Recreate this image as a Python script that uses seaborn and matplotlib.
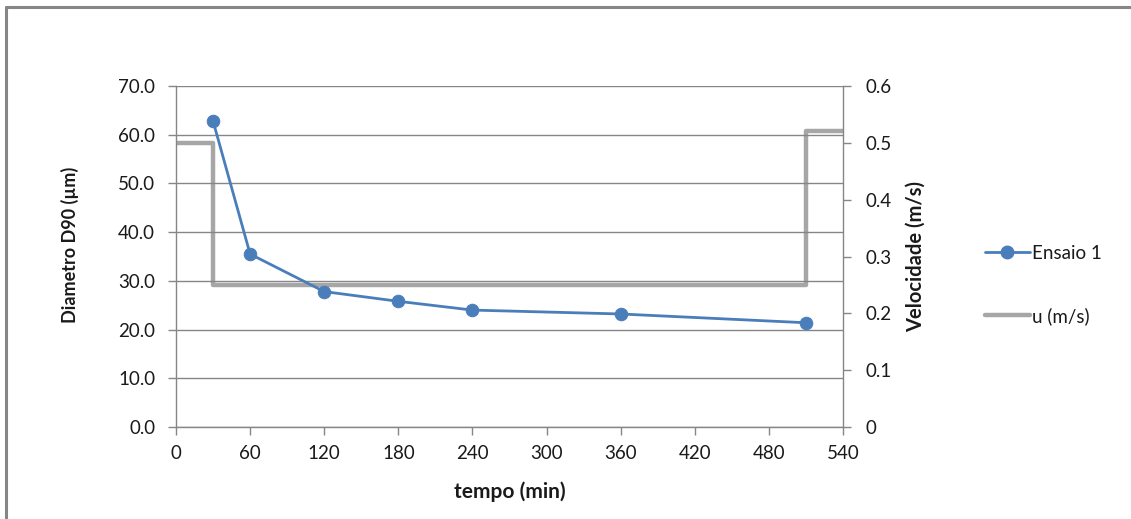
import matplotlib
matplotlib.use("Agg")
import matplotlib.pyplot as plt
from matplotlib.lines import Line2D
import seaborn as sns
import pandas as pd

# Diameter D90 measurements over time (Ensaio 1)
tempo_min = [30, 60, 120, 180, 240, 360, 510]
d90_um = [62.8, 35.5, 27.8, 25.8, 24.0, 23.2, 21.4]

# Flow velocity schedule (step changes)
tempo_u = [0, 30, 510, 540]
u_ms = [0.50, 0.25, 0.52, 0.52]

x_ticks = [0, 60, 120, 180, 240, 300, 360, 420, 480, 540]
left_ticks = [0, 10, 20, 30, 40, 50, 60, 70]
right_ticks = [0, 0.1, 0.2, 0.3, 0.4, 0.5, 0.6]
right_labels = ["0", "0.1", "0.2", "0.3", "0.4", "0.5", "0.6"]

sns.set_theme(style="white")
plt.rcParams["font.family"] = ["Lato", "DejaVu Sans"]

blue = "#4A7EBB"
grey_u = "#A6A6A6"
axis_grey = "#868686"
text_col = "#1a1a1a"

fig = plt.figure(figsize=(11.31, 5.19), dpi=100)
ax = fig.add_axes([176 / 1131, 1 - 427 / 519, (843 - 176) / 1131, (427 - 86) / 519])
ax2 = ax.twinx()

df_d = pd.DataFrame({"tempo": tempo_min, "d90": d90_um})
df_u = pd.DataFrame({"tempo": tempo_u, "u": u_ms})

sns.lineplot(data=df_u, x="tempo", y="u", ax=ax2, color=grey_u, linewidth=3.2,
             drawstyle="steps-post", legend=False, zorder=2)
sns.lineplot(data=df_d, x="tempo", y="d90", ax=ax, color=blue, linewidth=2.0,
             marker="o", markersize=9, markeredgecolor=blue, legend=False, zorder=3)

# D90 series drawn above the velocity axis
ax.set_zorder(ax2.get_zorder() + 1)
ax.patch.set_visible(False)

ax.set_xlim(0, 540)
ax.set_ylim(0, 70)
ax2.set_ylim(0, 0.6)
ax.set_xticks(x_ticks)
ax.set_yticks(left_ticks)
ax.set_yticklabels([f"{v:.1f}" for v in left_ticks])
ax2.set_yticks(right_ticks)
ax2.set_yticklabels(right_labels)

ax.grid(axis="y", color=axis_grey, linewidth=1.0)
ax.grid(axis="x", visible=False)
ax2.grid(False)

for a in (ax, ax2):
    a.spines["top"].set_visible(False)
    for side in ("left", "right", "bottom"):
        a.spines[side].set_color(axis_grey)
        a.spines[side].set_linewidth(1.0)
ax.spines["right"].set_visible(False)
ax2.spines["left"].set_visible(False)
ax2.spines["bottom"].set_visible(False)

ax.tick_params(axis="x", which="major", direction="out", length=6, width=1.0,
               color=axis_grey, labelsize=13.5, labelcolor=text_col, pad=7, bottom=True)
ax.tick_params(axis="y", which="major", direction="out", length=6, width=1.0,
               color=axis_grey, labelsize=13.5, labelcolor=text_col, pad=9, left=True)
ax2.tick_params(axis="y", direction="out", length=6, width=1.0, color=axis_grey,
                labelsize=13.5, labelcolor=text_col, pad=10, right=True)

ax.set_xlabel("tempo (min)", fontsize=15, fontweight="bold", color=text_col, labelpad=14)
ax.set_ylabel("Diametro D90 (µm)", fontsize=13, fontweight="bold", color=text_col, labelpad=28)
ax.yaxis.label.set_y(0.535)
ax2.set_ylabel("Velocidade (m/s)", fontsize=14.5, fontweight="bold", color=text_col, labelpad=10)

handles = [
    Line2D([], [], color=blue, linewidth=2.0, marker="o", markersize=9),
    Line2D([], [], color=grey_u, linewidth=3.2),
]
fig.legend(handles, ["Ensaio 1", "u (m/s)"], loc="center left",
           bbox_to_anchor=(968 / 1131, 1 - 285 / 519), frameon=False,
           fontsize=13.5, labelspacing=2.4, handlelength=2.4, handletextpad=0.1,
           labelcolor=text_col)

# Chart frame edges
fig.add_artist(Line2D([6 / 1131, 6 / 1131], [0, 1 - 7 / 519], transform=fig.transFigure,
                      color=axis_grey, linewidth=2.2))
fig.add_artist(Line2D([6 / 1131, 1], [1 - 7 / 519, 1 - 7 / 519], transform=fig.transFigure,
                      color=axis_grey, linewidth=2.2))

fig.savefig("out.png", dpi=100)
